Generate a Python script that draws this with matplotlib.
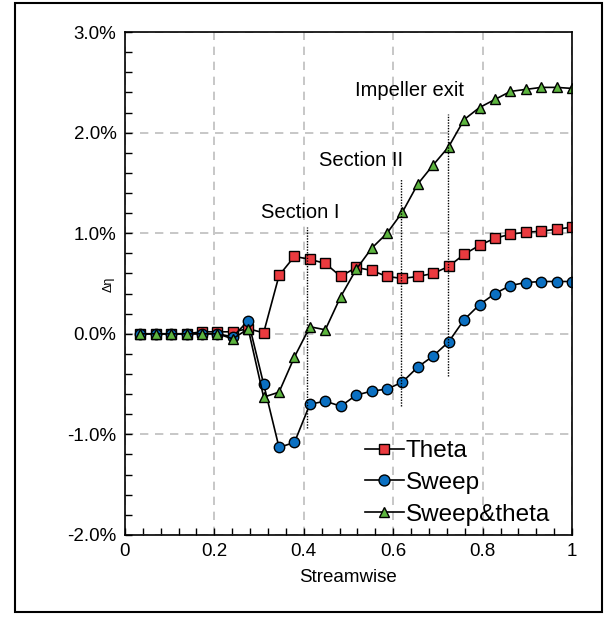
import numpy as np
import matplotlib
matplotlib.use("Agg")
import matplotlib.pyplot as plt
from matplotlib.patches import Rectangle

plt.rcParams['font.family'] = ['Liberation Sans', 'DejaVu Sans']

# Données (valeurs en %)
streamwise = np.arange(1, 30) / 29
theta = [0, 0, 0, 0, 0.02, 0.02, 0.02, 0.05, 0.01, 0.58, 0.77, 0.74, 0.70, 0.57,
         0.66, 0.63, 0.57, 0.55, 0.57, 0.60, 0.67, 0.79, 0.88, 0.95, 0.99, 1.01,
         1.02, 1.04, 1.06]
sweep = [0, 0, 0, 0, 0, 0, -0.03, 0.13, -0.50, -1.13, -1.08, -0.70, -0.67, -0.72,
         -0.61, -0.57, -0.55, -0.48, -0.33, -0.22, -0.08, 0.14, 0.29, 0.40, 0.48,
         0.51, 0.52, 0.52, 0.52]
sweep_theta = [0, 0, 0, 0, 0, 0, -0.05, 0.05, -0.63, -0.58, -0.23, 0.07, 0.04, 0.37,
               0.64, 0.85, 1.00, 1.21, 1.49, 1.68, 1.86, 2.13, 2.25, 2.33, 2.41,
               2.43, 2.45, 2.45, 2.44]

# Lignes verticales des sections
sections_x = [0.407, 0.617, 0.723]
sections_bas = [-0.94, -0.72, -0.42]
sections_haut = [1.06, 1.54, 2.19]
sections_noms = ["Section I", "Section II", "Impeller exit"]
sections_txt_x = [0.392, 0.528, 0.636]
sections_txt_y = [1.21, 1.72, 2.42]

y_ticks = [-2, -1, 0, 1, 2, 3]
y_labels = ["-2.0%", "-1.0%", "0.0%", "1.0%", "2.0%", "3.0%"]
x_ticks = [0, 0.2, 0.4, 0.6, 0.8, 1]
x_labels = ["0", "0.2", "0.4", "0.6", "0.8", "1"]

fig = plt.figure(figsize=(6.06, 6.17), dpi=100)
ax = fig.add_axes([0.206, 0.133, 0.738, 0.815])

ax.grid(True, color="#bdbdbd", linestyle=(0, (5, 4)), linewidth=1.2)
ax.set_axisbelow(True)

style = dict(color="black", linewidth=1.2, markersize=7.5, markeredgecolor="black",
             markeredgewidth=1.0)
ax.plot(streamwise, theta, marker="s", markerfacecolor="#ea3a3f", label="Theta", **style)
ax.plot(streamwise, sweep, marker="o", markerfacecolor="#0b70c2", label="Sweep", **style)
ax.plot(streamwise, sweep_theta, marker="^", markerfacecolor="#5db53f",
        label="Sweep&theta", **style)

for x, y0, y1, nom, tx, ty in zip(sections_x, sections_bas, sections_haut, sections_noms,
                                  sections_txt_x, sections_txt_y):
    ax.vlines(x, y0, y1, colors="black", linestyles=(0, (1, 1)), linewidth=1.0)
    ax.text(tx, ty, nom, fontsize=14.5, ha="center", va="center")

ax.set_xlim(0, 1)
ax.set_ylim(-2, 3)
ax.set_xticks(x_ticks)
ax.set_xticklabels(x_labels)
ax.set_yticks(y_ticks)
ax.set_yticklabels(y_labels)
ax.set_xticks(np.arange(0, 1.001, 0.04), minor=True)
ax.set_yticks(np.arange(-2, 3.001, 0.2), minor=True)
ax.tick_params(which="both", direction="in", labelsize=13.5, width=1.0)
ax.tick_params(which="major", length=5, pad=6)
ax.tick_params(which="minor", length=5)
for s in ax.spines.values():
    s.set_linewidth(1.2)

ax.set_xlabel("Streamwise", fontsize=13.5, labelpad=6)
ax.set_ylabel("Δη", fontsize=9)
ax.yaxis.set_label_coords(-0.022, 0.499)

ax.legend(loc="lower right", frameon=False, fontsize=17.5, handlelength=1.6,
          handletextpad=0.1, labelspacing=0.4, markerscale=1.05,
          bbox_to_anchor=(1.0, -0.025))

fig.add_artist(Rectangle((0.025, 0.008), 0.968, 0.987, transform=fig.transFigure,
                         fill=False, edgecolor="black", linewidth=1.5))

fig.savefig("out.png", dpi=100)
